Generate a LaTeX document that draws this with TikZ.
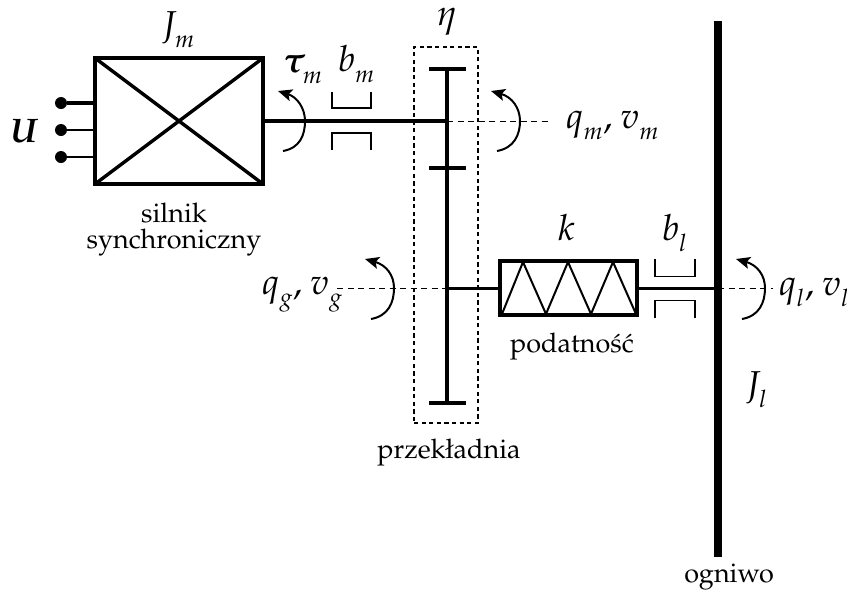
\documentclass[tikz,border=0pt]{standalone}
\usepackage[T1]{fontenc}
\usepackage[sc]{mathpazo}
\usepackage{bm}
\DeclareMathSizes{36}{36}{24}{16}
\newcommand{\lowsub}[1]{_{\raisebox{-6pt}{$\scriptstyle #1$}}}
\usetikzlibrary{arrows.meta}
\tikzset{
  lab/.style={inner sep=0pt,outer sep=0pt,anchor=base,font=\fontsize{27}{32}\selectfont},
  sym/.style={inner sep=0pt,outer sep=0pt,anchor=base west,font=\fontsize{36}{40}\selectfont},
  elem/.style={draw,line width=3.4pt,inner sep=0pt,outer sep=0pt,fill=white},
  shaft/.style={line width=3.6pt},
  thinshaft/.style={line width=3pt},
  gearbar/.style={line width=4pt},
  bearing/.style={line width=1.7pt},
  zig/.style={line width=2pt,line join=miter},
  axis/.style={line width=1pt,dash pattern=on 6pt off 4.5pt},
  dotbox/.style={draw,line width=1.9pt,dash pattern=on 4.2pt off 3.4pt,inner sep=0pt,outer sep=0pt},
  torque/.style={line width=2pt,-{Stealth[length=14pt,width=12pt,inset=3pt]}},
  term/.style={circle,fill=black,minimum size=12pt,inner sep=0pt,outer sep=0pt},
}
\begin{document}
\begin{tikzpicture}[x=1pt,y=-1pt]
\useasboundingbox (0,0) rectangle (847,592);
% coordinates
\coordinate (gT) at (447,69);
\coordinate (gM) at (447,168);
\coordinate (gB) at (447,403);
\coordinate (gS) at (447,121);
\coordinate (gS2) at (447,288);
\coordinate (barT) at (718,21);
\coordinate (barB) at (718,557);
\coordinate (barS) at (718,288);
\coordinate (axM) at (549,121);
\coordinate (axG) at (337,288);
\coordinate (axL) at (773,288);
% dashed axes (under everything)
\draw[axis] (gS) -- (axM);
\draw[axis] (axG) -- (gS2);
\draw[axis] (barS) -- (axL);
% gearbox frame
\node[dotbox,minimum width=64pt,minimum height=376pt] (gbox) at (446,235) {};
% motor
\node[elem,minimum width=168pt,minimum height=126pt] (motor) at (179,121) {};
\draw[line width=3.4pt] (motor.north west) -- (motor.south east);
\draw[line width=3.4pt] (motor.south west) -- (motor.north east);
% terminals
\node[term] (t1) at (61,103) {};
\node[term] (t2) at (61,130) {};
\node[term] (t3) at (61,157) {};
\draw[line width=3.2pt] (t1) -- (t1 -| motor.west);
\draw[line width=2.6pt] (t2) -- (t2 -| motor.west);
\draw[line width=2.6pt] (t3) -- (t3 -| motor.west);
% motor shaft
\draw[shaft] (motor.east) -- (gS);
% gear
\draw[gearbar] (gT) -- (gB);
\draw[gearbar] (429,69) -- (466,69);
\draw[gearbar] (429,168) -- (466,168);
\draw[gearbar] (429,403) -- (466,403);
% spring
\node[elem,minimum width=137pt,minimum height=54pt] (spring) at (568.5,288) {};
\draw[thinshaft] (gS2) -- (spring.west);
\draw[zig] (502,314) -- (523,262) -- (546,314) -- (568,262) -- (591,314) -- (613,262) -- (636,314);
\draw[thinshaft] (spring.east) -- (barS);
% big bar
\draw[line width=7.5pt] (barT) -- (barB);
% bearings
\draw[bearing] (332,92) -- (332,108) -- (371,108) -- (371,92);
\draw[bearing] (332,150) -- (332,133) -- (371,133) -- (371,150);
\draw[bearing] (655,259) -- (655,276.5) -- (695,276.5) -- (695,259);
\draw[bearing] (655,318) -- (655,300.5) -- (695,300.5) -- (695,318);
% torque arcs
\draw[torque] (283,151) .. controls (300,148) and (305,135) .. (305,121) .. controls (305,108) and (297,97) .. (278,91);
\draw[torque] (497,151) .. controls (514,148) and (520,135) .. (520,121) .. controls (520,108) and (512,97) .. (491,91);
\draw[torque] (371,319) .. controls (388,316) and (394,303) .. (394,288) .. controls (394,275) and (386,265) .. (365,259);
\draw[torque] (742,319) .. controls (759,316) and (765,303) .. (765,288) .. controls (765,275) and (757,265) .. (736,259);
% labels
\node[sym] (Jm) at (161,36) {$J\lowsub{m}$};
\node[sym] (taum) at (283,72) {$\bm{\tau}\lowsub{m}$};
\node[sym] (bm) at (338,71) {$b\lowsub{m}$};
\node[sym] (eta) at (437,25) {$\eta$};
\node[sym,font=\fontsize{34}{38}\selectfont] (U) at (10,142) {\textbf{\textit{U}}};
\node[sym] (qm) at (566,128) {$q\lowsub{m},\hspace{2pt}v\lowsub{m}$};
\node[sym] (qg) at (262,294) {$q\lowsub{g},\hspace{2pt}v\lowsub{g}$};
\node[sym] (ql) at (779,295) {$q\lowsub{l},\hspace{2pt}v\lowsub{l}$};
\node[sym] (k) at (558,240) {$k$};
\node[sym] (bl) at (662,240) {$b\lowsub{l}$};
\node[sym] (Jl) at (745,396) {$J\lowsub{l}$};
\node[lab] (silnik) at (174,222) {silnik};
\node[lab] (sync) at (174,248) {synchroniczny};
\node[lab] (pod) at (572,352) {podatno\'s\'c};
\node[lab] (prz) at (449,458) {przek\l adnia};
\node[lab] (ogn) at (729,582) {ogniwo};
\end{tikzpicture}
\end{document}
